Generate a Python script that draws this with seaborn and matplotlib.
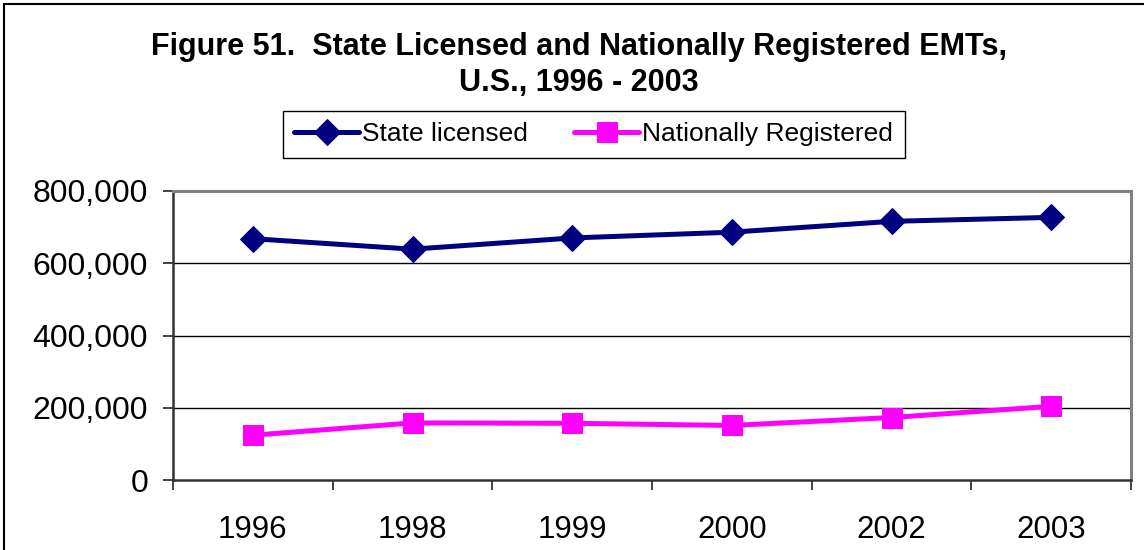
import matplotlib
matplotlib.use("Agg")
import matplotlib.pyplot as plt
from matplotlib.ticker import FuncFormatter, FixedLocator, NullFormatter
from matplotlib.lines import Line2D
import pandas as pd
import seaborn as sns

# EMT counts by year
years = ["1996", "1998", "1999", "2000", "2002", "2003"]
state_licensed = [668000, 639000, 670000, 686000, 716000, 727000]
nationally_registered = [124000, 158000, 157000, 151000, 173000, 204000]
y_ticks = [0, 200000, 400000, 600000, 800000]

title = "Figure 51.  State Licensed and Nationally Registered EMTs,\nU.S., 1996 - 2003"

sns.set_theme(style="white")
plt.rcParams["font.family"] = ["Liberation Sans", "DejaVu Sans"]
plt.rcParams["text.color"] = "black"

df_state = pd.DataFrame({"year": years, "count": state_licensed})
df_nat = pd.DataFrame({"year": years, "count": nationally_registered})

fig = plt.figure(figsize=(11.44, 5.5), dpi=100)
ax = fig.add_axes([173 / 1144, 70 / 550, 958 / 1144, 289 / 550])

sns.lineplot(data=df_state, x="year", y="count", ax=ax, color="#000080",
             linewidth=3.6, marker="D", markersize=13, markeredgecolor="#000080",
             label="State licensed", sort=False)
sns.lineplot(data=df_nat, x="year", y="count", ax=ax, color="#FF00FF",
             linewidth=3.6, marker="s", markersize=14, markeredgecolor="#FF00FF",
             label="Nationally Registered", sort=False)

ax.set_xlim(-0.5, len(years) - 0.5)
ax.set_ylim(0, 800000)
ax.set_xlabel("")
ax.set_ylabel("")

# y axis
ax.set_yticks(y_ticks)
ax.yaxis.set_major_formatter(FuncFormatter(lambda v, p: f"{v:,.0f}"))
ax.tick_params(axis="y", which="major", direction="out", length=7, width=1.2,
               color="#222222", left=True, labelsize=23, pad=11, labelcolor="black")

# x axis: labels at category centers, tick marks at category boundaries
ax.set_xticks(range(len(years)))
ax.set_xticklabels(years)
ax.xaxis.set_minor_locator(FixedLocator([i - 0.5 for i in range(len(years) + 1)]))
ax.xaxis.set_minor_formatter(NullFormatter())
ax.tick_params(axis="x", which="major", length=0, labelsize=22.5, pad=25, labelcolor="black")
ax.tick_params(axis="x", which="minor", direction="out", length=7, width=1.2,
               color="#222222", bottom=True)

# horizontal gridlines
ax.grid(False)
for v in y_ticks[1:-1]:
    ax.axhline(v, color="black", linewidth=1.0, zorder=0.5)

for side in ["top", "right"]:
    ax.spines[side].set_color("#808080")
    ax.spines[side].set_linewidth(2.2)
for side in ["left", "bottom"]:
    ax.spines[side].set_color("#333333")
    ax.spines[side].set_linewidth(1.8)

leg = ax.legend(loc="center", bbox_to_anchor=(0.519, 0.7555),
                bbox_transform=fig.transFigure, ncol=2, fontsize=19,
                frameon=True, fancybox=False, edgecolor="black",
                framealpha=1, handlelength=2.45, handletextpad=0.12,
                columnspacing=1.75, borderpad=0.45)
leg.get_frame().set_linewidth(1.0)
for t in leg.get_texts():
    t.set_color("black")

fig.text(0.506, 1 - 32 / 550, title, ha="center", va="top", color="black",
         fontsize=22, fontweight="bold", linespacing=1.28)

# frame around the figure
fig.add_artist(Line2D([4 / 1144, 1.0], [1 - 4 / 550, 1 - 4 / 550],
                      transform=fig.transFigure, color="black", linewidth=1.5))
fig.add_artist(Line2D([4 / 1144, 4 / 1144], [0.0, 1 - 4 / 550],
                      transform=fig.transFigure, color="black", linewidth=1.5))

fig.savefig("out.png", dpi=100)
